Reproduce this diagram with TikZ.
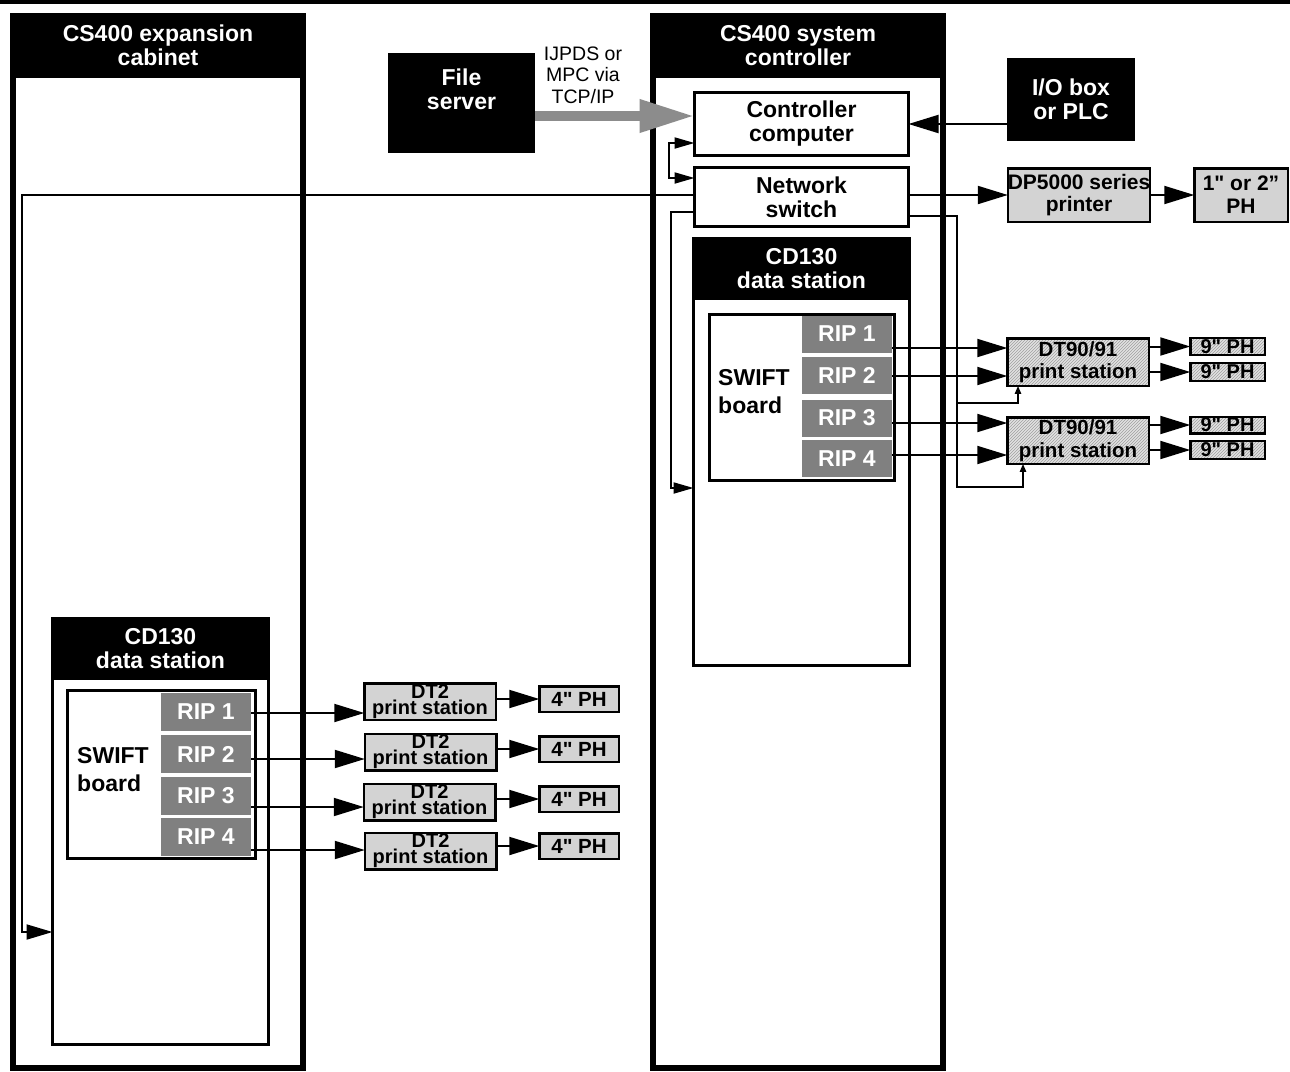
\documentclass[tikz,border=0pt]{standalone}
\usepackage{fontspec}
\setmainfont{Liberation Sans}[Ligatures=TeXOff]
\usetikzlibrary{arrows.meta,patterns}
\definecolor{ripgray}{HTML}{808080}
\definecolor{lgray}{HTML}{D3D3D3}
\definecolor{hgray}{HTML}{E2E2E2}
\definecolor{arrgray}{HTML}{8C8C8C}
\tikzset{
  bigtxt/.style={font=\fontsize{23}{24}\selectfont\bfseries, align=center},
  midtxt/.style={font=\fontsize{20.5}{22.5}\selectfont\bfseries, align=center},
  frame/.style={draw, line width=6pt, inner sep=0pt, outer sep=0pt},
  hdr/.style={fill=black, text=white, inner sep=0pt, outer sep=0pt, bigtxt},
  boxw/.style={draw, line width=3pt, inner sep=0pt, outer sep=0pt, bigtxt},
  rip/.style={fill=ripgray, text=white, inner sep=0pt, outer sep=0pt, bigtxt, minimum width=90pt},
  gbox/.style={draw, line width=2.5pt, fill=lgray, inner sep=0pt, outer sep=0pt, midtxt},
  hbox/.style={draw, line width=2.5pt, preaction={fill=hgray}, pattern=north east lines, pattern color=gray!75, inner sep=0pt, outer sep=0pt, midtxt},
  phsmall/.style={hbox, font=\fontsize{20}{20}\selectfont\bfseries},
  dtwo/.style={gbox, font=\fontsize{20}{16}\selectfont\bfseries, minimum width=131.5pt, minimum height=36.5pt},
  conn/.style={line width=2pt},
  bigarr/.style={conn, -{Triangle[length=30pt,width=18pt]}},
  medarr/.style={conn, -{Triangle[length=26pt,width=15pt]}},
  smarr/.style={conn, -{Triangle[length=20pt,width=11pt]}},
  tinyarr/.style={conn, -{Triangle[length=8pt,width=6pt]}},
}
\begin{document}
\begin{tikzpicture}[x=1pt,y=-1pt]
\useasboundingbox (0,0) rectangle (1290,1071);
% top rule
\draw[line width=3.5pt] (0,1.75) -- (1290,1.75);

% cabinets
\node[frame, minimum width=290pt, minimum height=1052pt] (exp) at (158,542) {};
\node[hdr, minimum width=296pt, minimum height=65pt] (exphdr) at (158,45.5) {CS400 expansion\\cabinet};
\node[frame, minimum width=290pt, minimum height=1052pt] (sys) at (798,542) {};
\node[hdr, minimum width=296pt, minimum height=65pt] (syshdr) at (798,45.5) {CS400 system\\controller};

% left CD130 data station
\node[boxw, minimum width=216pt, minimum height=426pt] (cdL) at (160.5,831.5) {};
\node[hdr, minimum width=219pt, minimum height=63pt] (cdLhdr) at (160.5,648.5) {CD130\\data station};
\node[boxw, minimum width=188pt, minimum height=168pt] (swL) at (161.5,774.5) {};
\node[bigtxt, font=\fontsize{23}{28}\selectfont\bfseries, align=left, anchor=west, inner sep=0pt] (swLtxt) at (77,770) {SWIFT\\board};
\node[rip, minimum height=38pt] (ripL1) at (206,712) {RIP 1};
\node[rip, minimum height=38pt] (ripL2) at (206,754) {RIP 2};
\node[rip, minimum height=38pt] (ripL3) at (206,796) {RIP 3};
\node[rip, minimum height=38pt] (ripL4) at (206,837) {RIP 4};

% right CD130 data station
\node[boxw, minimum width=216pt, minimum height=427pt] (cdR) at (801.5,452) {};
\node[hdr, minimum width=219pt, minimum height=63pt] (cdRhdr) at (801.5,268.5) {CD130\\data station};
\node[boxw, minimum width=185pt, minimum height=166pt] (swR) at (802,397.5) {};
\node[bigtxt, font=\fontsize{23}{28}\selectfont\bfseries, align=left, anchor=west, inner sep=0pt] (swRtxt) at (718,392) {SWIFT\\board};
\node[rip, minimum height=37pt] (ripR1) at (847,334) {RIP 1};
\node[rip, minimum height=37pt] (ripR2) at (847,375.5) {RIP 2};
\node[rip, minimum height=37pt] (ripR3) at (847,418) {RIP 3};
\node[rip, minimum height=37pt] (ripR4) at (847,458.5) {RIP 4};

% controller & switch
\node[boxw, fill=white, minimum width=214pt, minimum height=63pt] (cc) at (801.5,124) {Controller\\computer};
\node[boxw, fill=white, minimum width=214pt, minimum height=59pt] (ns) at (801.5,197) {Network\\switch};

% external black boxes
\node[hdr, minimum width=147pt, minimum height=100pt] (fs) at (461.5,103) {};
\node[bigtxt, text=white, inner sep=0pt] (fstxt) at (461.5,89) {File\\server};
\node[hdr, minimum width=128pt, minimum height=83pt] (io) at (1071,99.5) {I/O box\\or PLC};
\node[font=\fontsize{19.5}{21.5}\selectfont, align=center, inner sep=0pt] (proto) at (583,75) {IJPDS or\\MPC via\\TCP/IP};

% DP5000
\node[gbox, font=\fontsize{21}{22}\selectfont\bfseries, minimum width=141.5pt, minimum height=53.5pt] (dp) at (1079,195) {DP5000 series\\printer};
\node[gbox, font=\fontsize{21}{23}\selectfont\bfseries, minimum width=93.5pt, minimum height=53.5pt] (ph12) at (1241,195) {1" or 2”\\PH};

% DT90/91
\node[hbox, minimum width=141.5pt, minimum height=47.5pt] (dta) at (1078,362) {DT90/91\\print station};
\node[hbox, minimum width=141.5pt, minimum height=46.5pt] (dtb) at (1078,440.5) {DT90/91\\print station};
\node[phsmall, minimum width=74.5pt, minimum height=17pt] (pha) at (1227.5,346.5) {9" PH};
\node[phsmall, minimum width=74.5pt, minimum height=18pt] (phb) at (1227.5,372) {9" PH};
\node[phsmall, minimum width=74.5pt, minimum height=16.5pt] (phc) at (1227.5,425) {9" PH};
\node[phsmall, minimum width=74.5pt, minimum height=18pt] (phd) at (1227.5,450) {9" PH};

% DT2
\node[dtwo] (dt1) at (430,701.5) {DT2\\print station};
\node[dtwo] (dt2) at (430.5,752) {DT2\\print station};
\node[dtwo] (dt3) at (429.5,802) {DT2\\print station};
\node[dtwo] (dt4) at (430.5,851) {DT2\\print station};
\node[gbox, minimum width=79.5pt, minimum height=25.5pt] (ph1) at (579,699) {4" PH};
\node[gbox, minimum width=79.5pt, minimum height=25.5pt] (ph2) at (579,749) {4" PH};
\node[gbox, minimum width=79.5pt, minimum height=25.5pt] (ph3) at (579,799) {4" PH};
\node[gbox, minimum width=79.5pt, minimum height=25.5pt] (ph4) at (579,846) {4" PH};

% helper coordinates (levels)
\coordinate (y116) at (0,116);
\coordinate (y143) at (0,143);
\coordinate (y178) at (0,178);
\coordinate (y195) at (0,195);
\coordinate (y212) at (0,212);
\coordinate (y216) at (0,216);
\coordinate (y488) at (0,488);
\coordinate (y932) at (0,932);
\coordinate (y348) at (0,348);
\coordinate (y376) at (0,376);
\coordinate (y423) at (0,423);
\coordinate (y455) at (0,455);
\coordinate (y713) at (0,713);
\coordinate (y759) at (0,759);
\coordinate (y807) at (0,807);
\coordinate (y850) at (0,850);
\coordinate (x1018) at (1018,0);
\coordinate (x1023) at (1023,0);

% connectors
\draw[line width=10pt, arrgray, -{Triangle[length=55pt,width=31pt]}] (fs.east |- y116) -- (cc.west |- y116);
\draw[bigarr] (io.west |- cc.east) -- (cc.east);
\draw[conn, {Triangle[length=20pt,width=11pt]}-{Triangle[length=20pt,width=11pt]}]
  (cc.west |- y143) -- (669,143) -- (669,178) -- (ns.west |- y178);
\draw[medarr] (ns.west |- y195) -- (22,195) -- (22,932) -- (cdL.west |- y932);
\draw[smarr] (ns.west |- y212) -- (671,212) -- (671,488) -- (cdR.west |- y488);
\draw[bigarr] (dp.west -| ns.east) -- (dp.west);
\draw[bigarr] (dp.east) -- (ph12.west);
\draw[tinyarr] (ns.east |- y216) -- (957,216) -- (957,487) -- (1023,487) -- (dtb.south -| x1023);
\draw[tinyarr] (957,403) -- (1018,403) -- (dta.south -| x1018);

\draw[bigarr] (ripR1.east |- y348) -- (dta.west |- y348);
\draw[bigarr] (ripR2.east |- y376) -- (dta.west |- y376);
\draw[bigarr] (ripR3.east |- y423) -- (dtb.west |- y423);
\draw[bigarr] (ripR4.east |- y455) -- (dtb.west |- y455);
\draw[bigarr] (dta.east |- pha.west) -- (pha.west);
\draw[bigarr] (dta.east |- phb.west) -- (phb.west);
\draw[bigarr] (dtb.east |- phc.west) -- (phc.west);
\draw[bigarr] (dtb.east |- phd.west) -- (phd.west);

\draw[bigarr] (ripL1.east |- y713) -- (dt1.west |- y713);
\draw[bigarr] (ripL2.east |- y759) -- (dt2.west |- y759);
\draw[bigarr] (ripL3.east |- y807) -- (dt3.west |- y807);
\draw[bigarr] (ripL4.east |- y850) -- (dt4.west |- y850);
\draw[bigarr] (dt1.east |- ph1.west) -- (ph1.west);
\draw[bigarr] (dt2.east |- ph2.west) -- (ph2.west);
\draw[bigarr] (dt3.east |- ph3.west) -- (ph3.west);
\draw[bigarr] (dt4.east |- ph4.west) -- (ph4.west);
\end{tikzpicture}
\end{document}
